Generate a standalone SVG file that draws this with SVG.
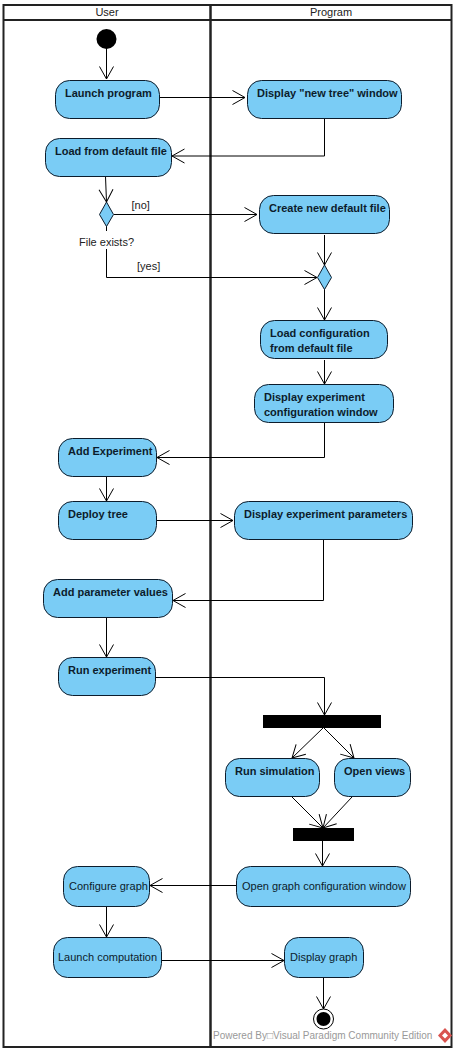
<svg xmlns="http://www.w3.org/2000/svg" width="457" height="1051" viewBox="0 0 457 1051">
<style>
text{font-family:"Liberation Sans",Arial,sans-serif;font-size:11px;fill:#222}
.n rect,.n path{fill:#7accf5;stroke:#0c1c2c;stroke-width:1}
.n text{fill:#0c1c2c}
.b text{font-weight:bold}
.lane{fill:none;stroke:#222;stroke-width:2}
.c{fill:none;stroke:#000;stroke-width:1}
.bar{fill:#000;stroke:none}
</style>
<defs><marker id="a" markerUnits="userSpaceOnUse" markerWidth="16" markerHeight="18" refX="13" refY="8" orient="auto"><path d="M0.5 1L13 8L0.5 15" fill="none" stroke="#000"/></marker></defs>
<rect width="457" height="1051" fill="#fff"/>
<g id="lanes">
<rect class="lane" x="3.5" y="5" width="448" height="1042"/>
<path class="lane" d="M3.5 20H451.5"/>
<path d="M210.5 5V1047" fill="none" stroke="#222" stroke-width="2.5"/>
<text x="107" y="16" text-anchor="middle">User</text>
<text x="331" y="16" text-anchor="middle">Program</text>
</g>
<g id="connectors">
<path class="c" marker-end="url(#a)" d="M106.5 48V79"/>
<path class="c" marker-end="url(#a)" d="M160 97.500H245"/>
<path class="c" marker-end="url(#a)" d="M324.500 118V156H172"/>
<path class="c" marker-end="url(#a)" d="M105.500 176.500L106.500 202"/>
<path class="c" marker-end="url(#a)" d="M114 214.500H257"/>
<path class="c" d="M106.500 226V231M106.500 249V277.500"/>
<path class="c" marker-end="url(#a)" d="M106.500 277.500H317"/>
<path class="c" marker-end="url(#a)" d="M324.500 235V265"/>
<path class="c" marker-end="url(#a)" d="M324.500 289V320"/>
<path class="c" marker-end="url(#a)" d="M324.500 360V384"/>
<path class="c" marker-end="url(#a)" d="M324.500 422V457.500H157"/>
<path class="c" marker-end="url(#a)" d="M106.500 477V501"/>
<path class="c" marker-end="url(#a)" d="M157 520.500H233"/>
<path class="c" marker-end="url(#a)" d="M323.500 540V600.500H173"/>
<path class="c" marker-end="url(#a)" d="M106.500 618V657"/>
<path class="c" marker-end="url(#a)" d="M156 677.500H324.500V715"/>
<path class="c" marker-end="url(#a)" d="M323 728L292 758"/>
<path class="c" marker-end="url(#a)" d="M324 728L354 758"/>
<path class="c" marker-end="url(#a)" d="M292 797L323 828"/>
<path class="c" marker-end="url(#a)" d="M352 797L323 828"/>
<path class="c" marker-end="url(#a)" d="M322.500 841V866"/>
<path class="c" marker-end="url(#a)" d="M236 885.500H150"/>
<path class="c" marker-end="url(#a)" d="M106.500 906V937"/>
<path class="c" marker-end="url(#a)" d="M162 960.500H284"/>
<path class="c" marker-end="url(#a)" d="M323.500 978V1009"/>
</g>
<g id="start"><circle cx="106.500" cy="39" r="10" fill="#000"/></g>
<g id="launch-program" class="n b"><rect x="55.500" y="80.500" width="104" height="38" rx="14"/><text x="65" y="97">Launch program</text></g>
<g id="display-new-tree" class="n b"><rect x="247.500" y="80.500" width="154" height="38" rx="14"/><text x="257" y="97">Display "new tree" window</text></g>
<g id="load-default" class="n b"><rect x="45.500" y="138.500" width="126" height="38" rx="14"/><text x="55" y="155">Load from default file</text></g>
<g id="decision-file" class="n"><path d="M106.500 202L113.500 214.500L106.500 226.500L99.500 214.500Z"/></g>
<text x="79" y="246">File exists?</text>
<text x="131.500" y="209">[no]</text>
<text x="137" y="270">[yes]</text>
<g id="create-default" class="n b"><rect x="259.500" y="195.500" width="130" height="38" rx="14"/><text x="269" y="212">Create new default file</text></g>
<g id="merge" class="n"><path d="M324.500 265L331.500 277.500L324.500 289.500L317.500 277.500Z"/></g>
<g id="load-config" class="n b"><rect x="260.500" y="320.500" width="127" height="38" rx="14"/><text x="270" y="337">Load configuration</text><text x="270" y="352">from default file</text></g>
<g id="display-config" class="n b"><rect x="254.500" y="384.500" width="139" height="38" rx="14"/><text x="264" y="401">Display experiment</text><text x="264" y="416">configuration window</text></g>
<g id="add-experiment" class="n b"><rect x="58.500" y="438.500" width="98" height="38" rx="14"/><text x="68" y="455">Add Experiment</text></g>
<g id="deploy-tree" class="n b"><rect x="58.500" y="501.500" width="98" height="38" rx="14"/><text x="68" y="518">Deploy tree</text></g>
<g id="display-params" class="n b"><rect x="234.500" y="501.500" width="178" height="38" rx="14"/><text x="244" y="518">Display experiment parameters</text></g>
<g id="add-values" class="n b"><rect x="43.500" y="579.500" width="129" height="38" rx="14"/><text x="53" y="596">Add parameter values</text></g>
<g id="run-experiment" class="n b"><rect x="58.500" y="657.500" width="97" height="38" rx="14"/><text x="68" y="674">Run experiment</text></g>
<g id="fork"><rect class="bar" x="263" y="715" width="118" height="13"/></g>
<g id="run-simulation" class="n b"><rect x="225.500" y="758.500" width="94" height="38" rx="14"/><text x="235" y="775">Run simulation</text></g>
<g id="open-views" class="n b"><rect x="334.500" y="758.500" width="76" height="38" rx="14"/><text x="344" y="775">Open views</text></g>
<g id="join"><rect class="bar" x="293" y="828" width="61" height="13"/></g>
<g id="open-graph" class="n"><rect x="236.500" y="866.500" width="174" height="40" rx="14"/><text x="242" y="890">Open graph configuration window</text></g>
<g id="configure-graph" class="n"><rect x="63.500" y="866.500" width="86" height="40" rx="14"/><text x="69" y="890">Configure graph</text></g>
<g id="launch-computation" class="n"><rect x="53.500" y="937.500" width="108" height="40" rx="14"/><text x="58" y="961">Launch computation</text></g>
<g id="display-graph" class="n"><rect x="284.500" y="937.500" width="79" height="40" rx="14"/><text x="290" y="961">Display graph</text></g>
<g id="end"><circle cx="323.500" cy="1019" r="10" fill="#fff" stroke="#000"/><circle cx="323.500" cy="1019" r="7" fill="#000"/></g>
<g id="watermark"><text x="213" y="1039" style="fill:#999;font-size:10px">Powered By□Visual Paradigm Community Edition</text><path d="M445 1028L452 1035.500L445 1043L438 1035.500Z" fill="#d9534f"/><path d="M445 1032.500L448 1035.500L445 1038.500L442 1035.500Z" fill="#fff"/></g>
</svg>
